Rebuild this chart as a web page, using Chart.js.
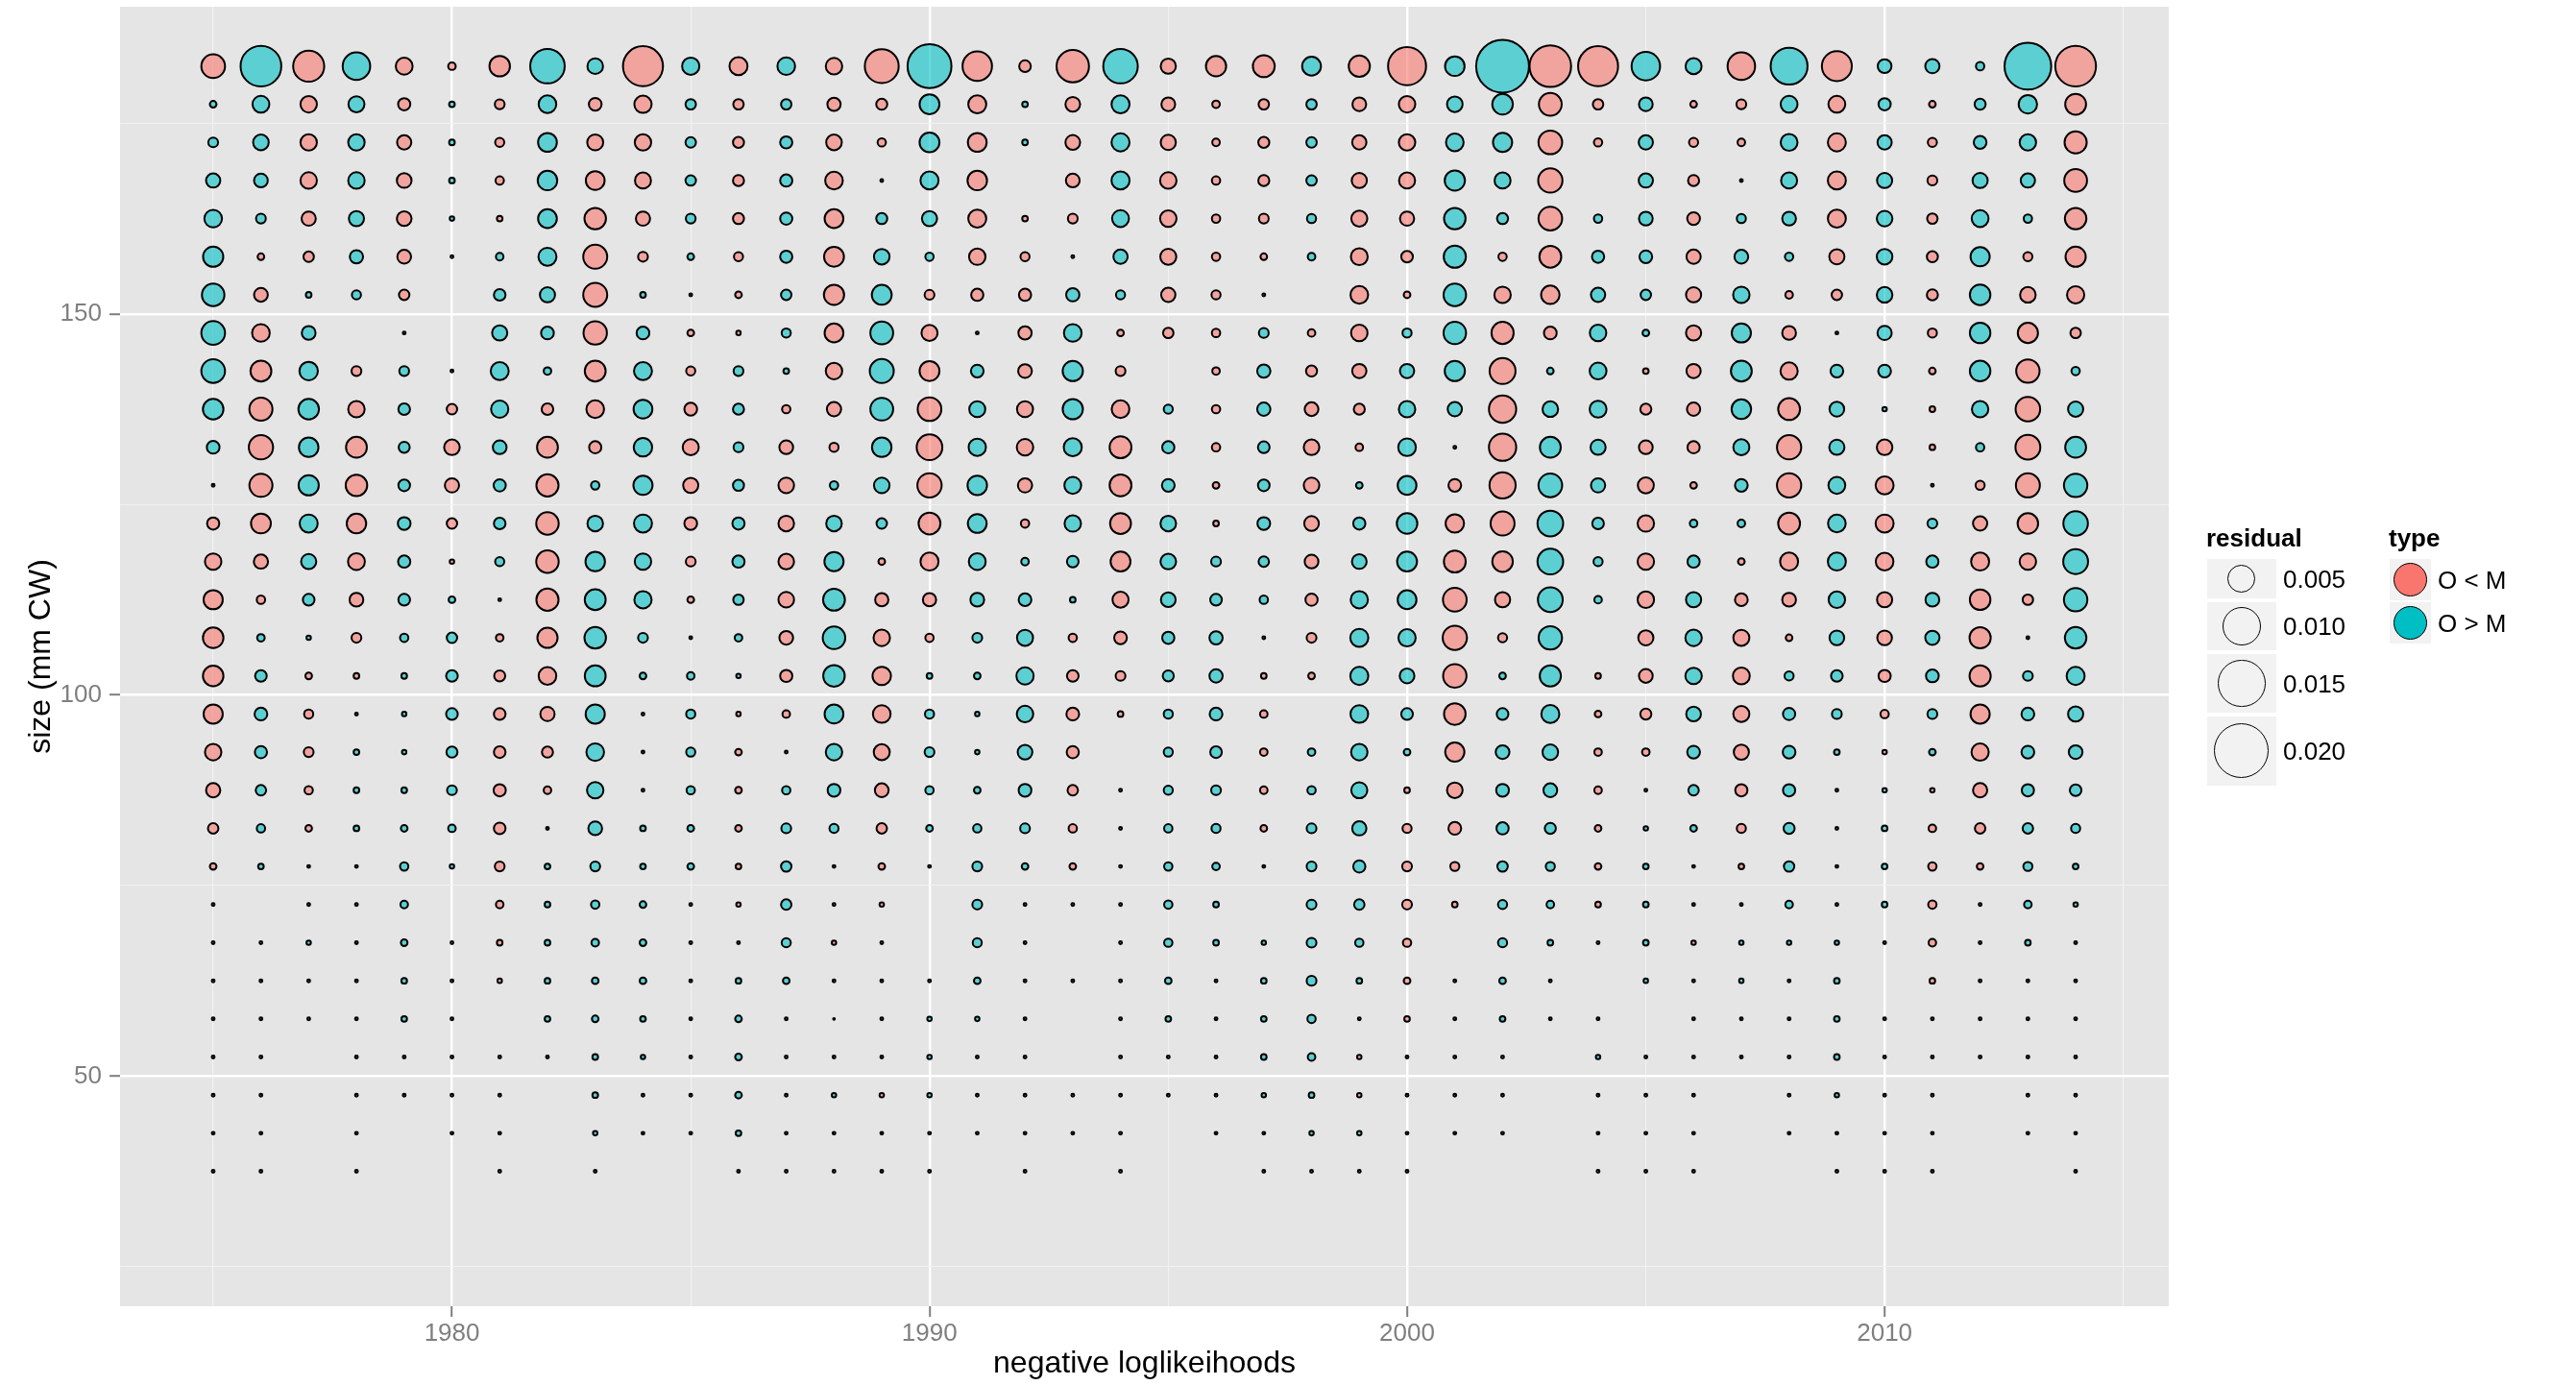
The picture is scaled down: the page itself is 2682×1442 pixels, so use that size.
<!DOCTYPE html>
<html>
<head>
<meta charset="utf-8">
<title>residual bubbles</title>
<script src="https://cdn.jsdelivr.net/npm/chart.js@4/dist/chart.umd.min.js"></script>
<style>
  html, body { margin: 0; padding: 0; background: #fff; }
  #wrap { position: relative; width: 2682px; height: 1442px; }
  #legend { position: absolute; left: 0; top: 0; font-family: 'Liberation Sans', Arial, sans-serif; color: #000; }
  #legend div { position: absolute; box-sizing: border-box; }
  .ttl { font-size: 26px; font-weight: bold; line-height: 30px; white-space: nowrap; }
  .lbl { font-size: 26px; line-height: 30px; white-space: nowrap; }
  .key { background: #F2F2F2; }
  .dot { border: 1.5px solid #000; border-radius: 50%; }
</style>
</head>
<body>
<div id="wrap">
  <canvas id="bubbles" width="2682" height="1442"></canvas>
  <div id="legend"></div>
</div>
<script>
  const years = [];
  for (let y = 1975; y <= 2014; y++) years.push(y);

  // size classes, one row of residuals each (top row first)
  const sizeClasses = [182.5, 177.5, 172.5, 167.5, 162.5, 157.5, 152.5, 147.5, 142.5, 137.5,
    132.5, 127.5, 122.5, 117.5, 112.5, 107.5, 102.5, 97.5, 92.5, 87.5,
    82.5, 77.5, 72.5, 67.5, 62.5, 57.5, 52.5, 47.5, 42.5, 37.5];

  // residual by size class (rows) and year 1975..2014 (columns); negative = O < M
  const residuals = [
    [-0.0042, 0.0120, -0.0071, 0.0056, -0.0022, -0.0005, -0.0032, 0.0087, 0.0019, -0.0116,
      0.0023, -0.0025, 0.0024, -0.0021, -0.0084, 0.0139, -0.0064, -0.0011, -0.0077, 0.0087,
      -0.0018, -0.0031, -0.0036, 0.0027, -0.0034, -0.0105, 0.0029, 0.0200, -0.0125, -0.0116,
      0.0060, 0.0020, -0.0056, 0.0099, -0.0066, 0.0015, 0.0016, 0.0006, 0.0157, -0.0120],
    [0.0004, 0.0022, -0.0021, 0.0020, -0.0012, 0.0003, -0.0008, 0.0024, -0.0013, -0.0023,
      0.0009, -0.0009, 0.0009, -0.0014, -0.0010, 0.0030, -0.0025, 0.0003, -0.0017, 0.0025,
      -0.0015, -0.0005, -0.0009, 0.0009, -0.0015, -0.0021, 0.0019, 0.0032, -0.0039, -0.0009,
      0.0015, -0.0004, -0.0008, 0.0022, -0.0022, 0.0012, -0.0004, 0.0010, 0.0026, -0.0033],
    [0.0008, 0.0019, -0.0021, 0.0021, -0.0016, 0.0003, -0.0007, 0.0027, -0.0020, -0.0021,
      0.0009, -0.0010, 0.0012, -0.0019, -0.0006, 0.0030, -0.0027, 0.0003, -0.0017, 0.0025,
      -0.0018, -0.0005, -0.0010, 0.0009, -0.0016, -0.0021, 0.0024, 0.0028, -0.0042, -0.0006,
      0.0016, -0.0007, -0.0005, 0.0022, -0.0025, 0.0016, -0.0007, 0.0013, 0.0021, -0.0037],
    [0.0016, 0.0015, -0.0021, 0.0021, -0.0017, 0.0003, -0.0006, 0.0029, -0.0027, -0.0020,
      0.0009, -0.0010, 0.0012, -0.0024, -0.0001, 0.0025, -0.0029, null, -0.0015, 0.0025,
      -0.0021, -0.0006, -0.0010, 0.0009, -0.0018, -0.0020, 0.0031, 0.0020, -0.0044, null,
      0.0016, -0.0010, 0.0001, 0.0020, -0.0025, 0.0018, -0.0008, 0.0018, 0.0016, -0.0039],
    [0.0024, 0.0008, -0.0016, 0.0018, -0.0017, 0.0002, -0.0003, 0.0027, -0.0035, -0.0016,
      0.0008, -0.0010, 0.0012, -0.0027, 0.0010, 0.0018, -0.0025, -0.0003, -0.0008, 0.0022,
      -0.0021, -0.0006, -0.0008, 0.0007, -0.0020, -0.0016, 0.0035, 0.0010, -0.0042, 0.0006,
      0.0015, -0.0013, 0.0007, 0.0015, -0.0025, 0.0019, -0.0009, 0.0022, 0.0006, -0.0035],
    [0.0031, -0.0004, -0.0009, 0.0014, -0.0015, 0.0001, 0.0005, 0.0025, -0.0043, -0.0008,
      0.0004, -0.0007, 0.0012, -0.0030, 0.0019, 0.0006, -0.0021, -0.0007, -0.0001, 0.0016,
      -0.0020, -0.0006, -0.0004, 0.0005, -0.0022, -0.0011, 0.0037, -0.0006, -0.0036, 0.0012,
      0.0013, -0.0016, 0.0015, 0.0006, -0.0018, 0.0019, -0.0010, 0.0028, -0.0007, -0.0031],
    [0.0038, -0.0015, 0.0003, 0.0007, -0.0009, null, 0.0011, 0.0018, -0.0043, 0.0003,
      0.0001, -0.0004, 0.0009, -0.0031, 0.0030, -0.0008, -0.0012, -0.0012, 0.0014, 0.0007,
      -0.0016, -0.0007, -0.0001, null, -0.0024, -0.0004, 0.0038, -0.0021, -0.0026, 0.0016,
      0.0009, -0.0018, 0.0021, -0.0005, -0.0009, 0.0019, -0.0010, 0.0032, -0.0019, -0.0023],
    [0.0042, -0.0024, 0.0015, null, -0.0001, null, 0.0018, 0.0013, -0.0041, 0.0013,
      -0.0004, -0.0002, 0.0007, -0.0027, 0.0039, -0.0020, 0.0001, -0.0014, 0.0024, -0.0004,
      -0.0009, -0.0006, 0.0008, -0.0005, -0.0021, 0.0007, 0.0038, -0.0037, -0.0013, 0.0021,
      0.0004, -0.0018, 0.0028, -0.0015, 0.0001, 0.0016, -0.0007, 0.0032, -0.0031, -0.0009],
    [0.0042, -0.0033, 0.0026, -0.0008, 0.0008, 0.0001, 0.0025, 0.0005, -0.0033, 0.0025,
      -0.0007, 0.0008, 0.0003, -0.0021, 0.0043, -0.0030, 0.0013, -0.0015, 0.0031, -0.0008,
      null, -0.0005, 0.0014, -0.0010, -0.0016, 0.0016, 0.0031, -0.0050, 0.0004, 0.0022,
      -0.0003, -0.0016, 0.0033, -0.0023, 0.0013, 0.0013, -0.0004, 0.0032, -0.0041, 0.0006],
    [0.0032, -0.0040, 0.0032, -0.0021, 0.0011, -0.0009, 0.0023, -0.0011, -0.0024, 0.0027,
      -0.0013, 0.0010, -0.0006, -0.0016, 0.0039, -0.0042, 0.0020, -0.0020, 0.0031, -0.0024,
      0.0007, -0.0006, 0.0014, -0.0015, -0.0010, 0.0021, 0.0016, -0.0055, 0.0019, 0.0022,
      -0.0010, -0.0014, 0.0029, -0.0036, 0.0017, 0.0002, -0.0003, 0.0021, -0.0045, 0.0018],
    [0.0013, -0.0044, 0.0029, -0.0033, 0.0010, -0.0019, 0.0015, -0.0033, -0.0012, 0.0026,
      -0.0020, 0.0008, -0.0015, -0.0007, 0.0029, -0.0049, 0.0023, -0.0021, 0.0025, -0.0036,
      0.0012, -0.0006, 0.0011, -0.0019, -0.0005, 0.0024, 0.0001, -0.0055, 0.0033, 0.0018,
      -0.0015, -0.0012, 0.0020, -0.0044, 0.0018, -0.0019, -0.0003, 0.0006, -0.0046, 0.0033],
    [0.0001, -0.0040, 0.0031, -0.0035, 0.0011, -0.0016, 0.0012, -0.0037, 0.0006, 0.0028,
      -0.0018, 0.0010, -0.0019, 0.0006, 0.0019, -0.0044, 0.0029, -0.0016, 0.0022, -0.0036,
      0.0013, -0.0004, 0.0011, -0.0019, 0.0004, 0.0027, -0.0013, -0.0051, 0.0042, 0.0016,
      -0.0020, -0.0004, 0.0013, -0.0044, 0.0022, -0.0025, 0.0001, -0.0007, -0.0043, 0.0041],
    [-0.0012, -0.0030, 0.0025, -0.0029, 0.0013, -0.0009, 0.0011, -0.0038, 0.0019, 0.0025,
      -0.0013, 0.0012, -0.0019, 0.0019, 0.0009, -0.0036, 0.0027, -0.0006, 0.0021, -0.0033,
      0.0019, -0.0003, 0.0013, -0.0017, 0.0012, 0.0032, -0.0026, -0.0043, 0.0049, 0.0011,
      -0.0021, 0.0005, 0.0005, -0.0036, 0.0024, -0.0025, 0.0008, -0.0016, -0.0032, 0.0045],
    [-0.0021, -0.0016, 0.0018, -0.0022, 0.0012, -0.0002, 0.0007, -0.0038, 0.0029, 0.0021,
      -0.0008, 0.0012, -0.0019, 0.0028, -0.0004, -0.0025, 0.0022, 0.0005, 0.0011, -0.0030,
      0.0019, 0.0008, 0.0009, -0.0015, 0.0017, 0.0030, -0.0036, -0.0032, 0.0049, 0.0007,
      -0.0021, 0.0012, -0.0004, -0.0025, 0.0025, -0.0024, 0.0012, -0.0025, -0.0021, 0.0046],
    [-0.0028, -0.0006, 0.0011, -0.0015, 0.0011, 0.0004, -0.0001, -0.0037, 0.0033, 0.0023,
      -0.0004, 0.0009, -0.0019, 0.0036, -0.0014, -0.0014, 0.0015, 0.0013, 0.0003, -0.0020,
      0.0017, 0.0011, 0.0006, -0.0012, 0.0023, 0.0027, -0.0042, -0.0018, 0.0046, 0.0005,
      -0.0021, 0.0018, -0.0013, -0.0015, 0.0021, -0.0018, 0.0015, -0.0032, -0.0009, 0.0041],
    [-0.0032, 0.0005, 0.0002, -0.0008, 0.0006, 0.0009, -0.0005, -0.0031, 0.0035, 0.0008,
      0.0001, 0.0005, -0.0015, 0.0038, -0.0021, -0.0006, 0.0008, 0.0020, -0.0006, -0.0013,
      0.0012, 0.0014, 0.0001, -0.0008, 0.0025, 0.0023, -0.0044, -0.0007, 0.0041, null,
      -0.0018, 0.0021, -0.0020, -0.0004, 0.0017, -0.0017, 0.0016, -0.0034, 0.0001, 0.0035],
    [-0.0032, 0.0011, -0.0004, -0.0003, 0.0003, 0.0011, -0.0010, -0.0024, 0.0033, 0.0004,
      0.0005, 0.0002, -0.0012, 0.0035, -0.0026, 0.0003, 0.0004, 0.0023, -0.0011, -0.0008,
      0.0010, 0.0014, -0.0003, -0.0004, 0.0025, 0.0017, -0.0041, 0.0004, 0.0034, -0.0003,
      -0.0015, 0.0021, -0.0022, 0.0007, 0.0011, -0.0012, 0.0013, -0.0034, 0.0008, 0.0025],
    [-0.0028, 0.0013, -0.0007, 0.0001, 0.0002, 0.0011, -0.0011, -0.0016, 0.0028, 0.0001,
      0.0007, -0.0002, -0.0005, 0.0027, -0.0024, 0.0007, 0.0002, 0.0021, -0.0013, -0.0003,
      0.0007, 0.0013, -0.0005, null, 0.0024, 0.0011, -0.0035, 0.0011, 0.0025, -0.0004,
      -0.0010, 0.0017, -0.0020, 0.0012, 0.0008, -0.0006, 0.0008, -0.0028, 0.0013, 0.0018],
    [-0.0021, 0.0012, -0.0008, 0.0003, 0.0002, 0.0010, -0.0011, -0.0010, 0.0024, 0.0001,
      0.0007, -0.0004, 0.0001, 0.0021, -0.0020, 0.0008, 0.0002, 0.0017, -0.0012, null,
      0.0007, 0.0011, -0.0005, 0.0005, 0.0021, 0.0004, -0.0028, 0.0015, 0.0019, -0.0005,
      -0.0005, 0.0013, -0.0018, 0.0013, 0.0003, -0.0002, 0.0004, -0.0023, 0.0013, 0.0015],
    [-0.0016, 0.0009, -0.0006, 0.0003, 0.0003, 0.0008, -0.0012, -0.0005, 0.0021, 0.0001,
      0.0006, -0.0004, 0.0006, 0.0013, -0.0015, 0.0006, 0.0004, 0.0013, -0.0009, 0.0001,
      0.0007, 0.0008, -0.0005, 0.0006, 0.0020, -0.0003, -0.0019, 0.0013, 0.0015, -0.0005,
      0.0001, 0.0009, -0.0012, 0.0012, 0.0001, 0.0002, -0.0002, -0.0016, 0.0012, 0.0011],
    [-0.0009, 0.0006, -0.0004, 0.0003, 0.0004, 0.0005, -0.0011, 0.0001, 0.0015, 0.0003,
      0.0004, -0.0004, 0.0008, 0.0007, -0.0009, 0.0004, 0.0006, 0.0008, -0.0006, 0.0001,
      0.0006, 0.0007, -0.0004, 0.0008, 0.0016, -0.0007, -0.0013, 0.0012, 0.0010, -0.0004,
      0.0002, 0.0004, -0.0007, 0.0010, 0.0001, 0.0003, -0.0005, -0.0009, 0.0009, 0.0007],
    [-0.0004, 0.0003, 0.0001, 0.0001, 0.0006, 0.0002, -0.0008, 0.0003, 0.0008, 0.0003,
      0.0004, -0.0003, 0.0009, 0.0001, -0.0004, 0.0001, 0.0008, 0.0004, -0.0004, 0.0001,
      0.0006, 0.0005, 0.0001, 0.0008, 0.0012, -0.0008, -0.0007, 0.0009, 0.0007, -0.0004,
      0.0003, 0.0001, -0.0003, 0.0009, 0.0001, 0.0003, -0.0006, -0.0004, 0.0007, 0.0003],
    [0.0001, null, 0.0001, 0.0001, 0.0005, null, -0.0005, 0.0003, 0.0006, 0.0004,
      0.0001, -0.0002, 0.0009, -0.0001, -0.0002, null, 0.0008, 0.0001, 0.0001, 0.0001,
      0.0006, 0.0003, null, 0.0008, 0.0009, -0.0008, -0.0003, 0.0007, 0.0005, -0.0003,
      0.0003, 0.0001, 0.0001, 0.0005, 0.0001, 0.0003, -0.0006, 0.0001, 0.0005, 0.0002],
    [0.0001, 0.0001, 0.0002, 0.0001, 0.0004, 0.0001, -0.0003, 0.0003, 0.0005, 0.0004,
      0.0001, 0.0001, 0.0007, -0.0002, 0.0001, null, 0.0007, 0.0001, null, 0.0001,
      0.0006, 0.0003, 0.0002, 0.0008, 0.0006, -0.0006, null, 0.0007, 0.0003, 0.0001,
      0.0003, -0.0002, 0.0002, 0.0002, 0.0002, 0.0001, -0.0005, 0.0001, 0.0003, 0.0001],
    [0.0001, 0.0001, 0.0001, 0.0001, 0.0003, -0.0001, -0.0002, 0.0003, 0.0004, 0.0004,
      0.0001, 0.0003, 0.0004, 0.0001, 0.0001, 0.0001, 0.0004, 0.0001, 0.0001, 0.0001,
      0.0004, 0.0001, 0.0003, 0.0008, 0.0003, -0.0004, 0.0001, 0.0004, 0.0001, null,
      0.0002, 0.0001, 0.0002, 0.0001, 0.0003, null, -0.0003, 0.0001, 0.0001, 0.0001],
    [0.0001, 0.0001, 0.0001, 0.0001, 0.0003, 0.0001, null, 0.0003, 0.0004, 0.0003,
      0.0001, 0.0004, 0.0001, 0.00005, 0.0001, 0.0002, 0.0002, 0.0001, null, 0.0001,
      0.0003, 0.0001, 0.0003, 0.0006, 0.0001, -0.0003, 0.0001, 0.0003, 0.0001, 0.0001,
      null, 0.0001, 0.0001, 0.0001, 0.0003, -0.0001, -0.0001, 0.0001, 0.0001, 0.0001],
    [0.0001, 0.0001, null, 0.0001, 0.0001, 0.0001, 0.0001, 0.0001, 0.0003, 0.0002,
      0.0001, 0.0004, 0.0001, 0.0001, 0.0001, 0.0002, 0.0001, 0.0001, null, 0.0001,
      0.0001, 0.0001, 0.0003, 0.0005, -0.0002, 0.0001, 0.0001, 0.0001, null, 0.0002,
      0.0001, 0.0001, 0.0001, 0.0001, 0.0003, -0.0001, 0.0001, 0.0001, 0.0001, -0.0001],
    [0.0001, 0.0001, null, 0.0001, 0.0001, 0.0001, 0.0001, null, 0.0003, 0.0001,
      0.0001, 0.0004, 0.0001, 0.0002, -0.0002, 0.0002, 0.0001, 0.0001, 0.0001, 0.0001,
      0.0001, 0.0001, 0.0002, 0.0003, -0.0002, 0.0001, 0.0001, 0.0001, null, 0.0001,
      0.0001, 0.0001, null, 0.0001, 0.0002, -0.0001, 0.0001, null, 0.0001, -0.0001],
    [0.0001, 0.0001, null, 0.0001, null, 0.0001, 0.0001, null, 0.0002, 0.0001,
      0.0001, 0.0003, 0.0001, 0.0001, 0.0001, 0.0001, 0.0001, 0.0001, 0.0001, 0.0001,
      null, 0.0001, 0.0001, 0.0002, 0.0002, 0.0001, 0.0001, 0.0001, null, 0.0001,
      0.0001, 0.0001, null, 0.0001, 0.0001, 0.0001, 0.0001, null, 0.0001, 0.0001],
    [0.0001, 0.0001, null, 0.0001, null, null, 0.0001, null, 0.0001, null,
      null, 0.0001, 0.0001, 0.0001, 0.0001, 0.0001, null, 0.0001, null, 0.0001,
      null, null, 0.0001, 0.0001, 0.0001, 0.0001, null, null, null, 0.0001,
      0.0001, 0.0001, null, null, 0.0001, 0.0001, 0.0001, null, null, 0.0001]
  ];

  const xGrid = [1975, 1980, 1985, 1990, 1995, 2000, 2005, 2010, 2015];
  const xLabels = [1980, 1990, 2000, 2010];
  const yGrid = [25, 50, 75, 100, 125, 150, 175];
  const yLabels = [50, 100, 150];

  const legendValues = [0.005, 0.010, 0.015, 0.020];
  const typeNames = ['O < M', 'O > M'];
  const typeColors = ['#F8766D', '#00BFC4'];
  const typeFills = ['rgba(248,118,109,0.6)', 'rgba(0,191,196,0.6)'];

  // outer diameter of a bubble grows with the square root of |residual|
  const STROKE = 2;
  function outerDiameter(v) {
    return 1 + 396 * Math.sqrt(Math.abs(v));
  }
  function bubbleRadius(v) {
    return Math.max(0.5, (outerDiameter(v) - STROKE) / 2);
  }

  const points = [];
  sizeClasses.forEach((size, i) => {
    years.forEach((year, j) => {
      const v = residuals[i][j];
      if (v !== null) points.push({ x: year, y: size, v: v });
    });
  });

  const panelBackground = {
    id: 'panelBackground',
    beforeDraw(chart) {
      const { ctx, chartArea: a } = chart;
      ctx.save();
      ctx.fillStyle = '#E5E5E5';
      ctx.fillRect(a.left, a.top, a.right - a.left, a.bottom - a.top);
      ctx.restore();
    }
  };

  function gridFor(majors) {
    return {
      color: c => majors.includes(c.tick && c.tick.value) ? '#FFFFFF' : '#F2F2F2',
      lineWidth: c => majors.includes(c.tick && c.tick.value) ? 2.4 : 1.1,
      tickColor: c => majors.includes(c.tick && c.tick.value) ? '#7F7F7F' : 'rgba(0,0,0,0)',
      tickWidth: 2,
      tickLength: 11,
      drawTicks: true
    };
  }

  Chart.defaults.font.family = "'Liberation Sans', Arial, sans-serif";

  new Chart(document.getElementById('bubbles'), {
    type: 'scatter',
    data: {
      datasets: [{
        label: 'residual',
        data: points,
        pointRadius: c => c.raw ? bubbleRadius(c.raw.v) : 3,
        pointHoverRadius: c => c.raw ? bubbleRadius(c.raw.v) : 3,
        pointBackgroundColor: c => (c.raw && c.raw.v < 0) ? typeFills[0] : typeFills[1],
        pointBorderColor: '#000000',
        pointBorderWidth: STROKE,
        pointHoverBorderWidth: STROKE
      }]
    },
    plugins: [panelBackground],
    options: {
      responsive: false,
      animation: false,
      events: [],
      layout: { autoPadding: false, padding: { top: 7, right: 424, left: 0, bottom: 0 } },
      plugins: { legend: { display: false }, tooltip: { enabled: false } },
      scales: {
        x: {
          type: 'linear',
          min: 1973.05,
          max: 2015.95,
          afterBuildTicks: s => { s.ticks = xGrid.map(v => ({ value: v })); },
          afterFit: s => { s.height = 82; s.paddingLeft = 0; s.paddingRight = 0; },
          border: { display: false },
          grid: gridFor(xLabels),
          ticks: {
            autoSkip: false,
            maxRotation: 0,
            padding: 2,
            color: '#7F7F7F',
            font: { size: 26 },
            callback: v => xLabels.includes(v) ? String(v) : ''
          },
          title: {
            display: true,
            text: 'negative loglikeihoods',
            color: '#000000',
            font: { size: 32 },
            padding: { top: 0, bottom: 3 }
          }
        },
        y: {
          type: 'linear',
          min: 19.8,
          max: 190.3,
          afterBuildTicks: s => { s.ticks = yGrid.map(v => ({ value: v })); },
          afterFit: s => { s.width = 125; s.paddingTop = 0; s.paddingBottom = 0; },
          border: { display: false },
          grid: gridFor(yLabels),
          ticks: {
            autoSkip: false,
            padding: 8,
            color: '#7F7F7F',
            font: { size: 26 },
            callback: v => yLabels.includes(v) ? String(v) : ''
          },
          title: {
            display: true,
            text: 'size (mm CW)',
            color: '#000000',
            font: { size: 32 },
            padding: { top: 24, bottom: 0 }
          }
        }
      }
    }
  });

  // legend: bubble sizes and fill type
  const legend = document.getElementById('legend');
  function box(cls, left, top, width, height, text) {
    const d = document.createElement('div');
    d.className = cls;
    d.style.left = left + 'px';
    d.style.top = top + 'px';
    if (width) d.style.width = width + 'px';
    if (height) d.style.height = height + 'px';
    if (text) d.textContent = text;
    legend.appendChild(d);
    return d;
  }

  box('ttl', 2297, 545, 0, 0, 'residual');
  const keyTops = [582, 627, 681, 746];
  const keyHeights = [41, 50, 61, 72];
  legendValues.forEach((v, i) => {
    const top = keyTops[i], h = keyHeights[i];
    box('key', 2298, top, 72, h);
    const d = outerDiameter(v);
    box('dot', 2334 - d / 2, top + h / 2 - d / 2, d, d);
    box('lbl', 2377, top + h / 2 - 15, 0, 0, v.toFixed(3));
  });

  box('ttl', 2487, 545, 0, 0, 'type');
  typeNames.forEach((name, i) => {
    const top = 582 + i * 45;
    box('key', 2488, top, 43, 43);
    const dot = box('dot', 2509.5 - 17.5, top + 21.5 - 17.5, 35, 35);
    dot.style.background = typeColors[i];
    box('lbl', 2538, top + 21.5 - 15, 0, 0, name);
  });
</script>
</body>
</html>
